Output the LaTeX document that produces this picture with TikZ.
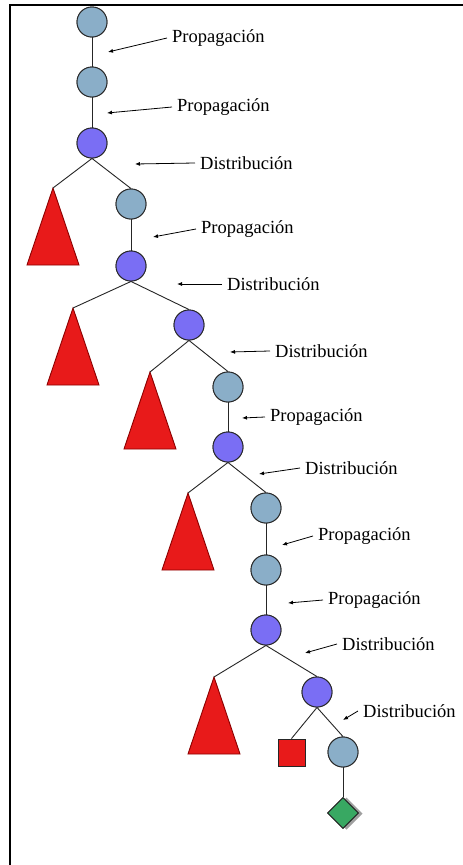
\documentclass[tikz,border=0pt]{standalone}
\usepackage{fontspec}
\setmainfont{Liberation Serif}
\usetikzlibrary{arrows.meta,shapes.geometric}
\definecolor{lblue}{RGB}{138,174,200}
\definecolor{lpurple}{RGB}{122,110,244}
\definecolor{tred}{RGB}{232,26,26}
\definecolor{dgreen}{RGB}{56,168,98}
\begin{document}
\begin{tikzpicture}[x=1pt,y=-1pt,
  prop/.style={circle,draw=black!85,line width=0.9pt,fill=lblue,minimum size=30pt,inner sep=0pt},
  dist/.style={circle,draw=black!85,line width=0.9pt,fill=lpurple,minimum size=30pt,inner sep=0pt},
  tri/.style={draw=red!55!black,line width=0.9pt,fill=tred,line join=miter},
  edge/.style={draw=black!85,line width=0.9pt},
  lab/.style={anchor=west,inner xsep=5pt,inner ysep=0pt,font=\fontsize{18.5}{20}\selectfont},
  arr/.style={draw=black,line width=0.8pt,-{Latex[length=5pt,width=4pt]}},
  sq/.style={rectangle,draw=black!85,line width=0.9pt,fill=tred,minimum size=27pt,inner sep=0pt},
  dia/.style={diamond,draw=black!85,line width=0.9pt,fill=dgreen,minimum size=31pt,inner sep=0pt,aspect=1}
]
\useasboundingbox (0,0) rectangle (463,865);
\fill[white] (0,0) rectangle (463,865);
% frame
\draw[line width=2pt] (10,865) -- (10,5) -- (463,5);

% tree nodes
\node[prop] (c1) at (92,22) {};
\node[prop] (c2) at (92,82) {};
\node[dist] (p1) at (92,143) {};
\coordinate (t1) at (53,188);
\node[prop] (c3) at (131,204) {};
\node[dist] (p2) at (131,266) {};
\coordinate (t2) at (73,308);
\node[dist] (p3) at (189,325) {};
\coordinate (t3) at (150,372);
\node[prop] (c4) at (228,387) {};
\node[dist] (p4) at (228,447) {};
\coordinate (t4) at (188,493);
\node[prop] (c5) at (266,508) {};
\node[prop] (c6) at (266,570) {};
\node[dist] (p5) at (266,630) {};
\coordinate (t5) at (214,677);
\node[dist] (p6) at (317,692) {};
\node[sq] (sq) at (291.5,752.5) {};
\node[prop] (c7) at (343,752) {};
\fill[gray!75] (346.5,797.5) -- (362.5,813.5) -- (346.5,829.5) -- (330.5,813.5) -- cycle;
\node[dia] (d1) at (343,813) {};

% triangles
\foreach \t in {t1,t2,t3,t4,t5}
  \draw[tri] (\t) -- ++(26,77) -- ++(-52,0) -- cycle;

% edges
\draw[edge] (c1) -- (c2);
\draw[edge] (c2) -- (p1);
\draw[edge] (p1.south) -- (t1);
\draw[edge] (p1.south) -- (c3.north);
\draw[edge] (c3) -- (p2);
\draw[edge] (p2.south) -- (t2);
\draw[edge] (p2.south) -- (p3.north);
\draw[edge] (p3.south) -- (t3);
\draw[edge] (p3.south) -- (c4.north);
\draw[edge] (c4) -- (p4);
\draw[edge] (p4.south) -- (t4);
\draw[edge] (p4.south) -- (c5.north);
\draw[edge] (c5) -- (c6);
\draw[edge] (c6) -- (p5);
\draw[edge] (p5.south) -- (t5);
\draw[edge] (p5.south) -- (p6.north);
\draw[edge] (p6.south) -- (sq.north);
\draw[edge] (p6.south) -- (c7.north);
\draw[edge] (c7) -- (d1);
% redraw nodes on top of edges
\foreach \n/\s/\x/\y in {c1/prop/92/22,c2/prop/92/82,c3/prop/131/204,c4/prop/228/387,c5/prop/266/508,c6/prop/266/570,c7/prop/343/752,p1/dist/92/143,p2/dist/131/266,p3/dist/189/325,p4/dist/228/447,p5/dist/266/630,p6/dist/317/692}
  \node[\s] at (\x,\y) {};
\node[sq] at (291.5,752.5) {};
\node[dia] at (343,813) {};

% labels
\node[lab] (l1) at (167,38) {Propagación};
\node[lab] (l2) at (172,107) {Propagación};
\node[lab] (l3) at (195,163) {Distribución};
\node[lab] (l4) at (196,229) {Propagación};
\node[lab] (l5) at (222,284) {Distribución};
\node[lab] (l6) at (270,351) {Distribución};
\node[lab] (l7) at (265,417) {Propagación};
\node[lab] (l8) at (300,468) {Distribución};
\node[lab] (l9) at (313,536) {Propagación};
\node[lab] (l10) at (323,600) {Propagación};
\node[lab] (l11) at (337,644) {Distribución};
\node[lab] (l12) at (358,711) {Distribución};

\coordinate (a1) at (108,52);
\coordinate (a2) at (107,113);
\coordinate (a3) at (135,164);
\coordinate (a4) at (153,237);
\coordinate (a5) at (177,284);
\coordinate (a6) at (230,352);
\coordinate (a7) at (242,418);
\coordinate (a8) at (259,474);
\coordinate (a9) at (282,545);
\coordinate (a10) at (288,603);
\coordinate (a11) at (305,653);
\coordinate (a12) at (343,720);
\foreach \i in {1,...,12}
  \draw[arr] (l\i.west) -- (a\i);
\end{tikzpicture}
\end{document}
